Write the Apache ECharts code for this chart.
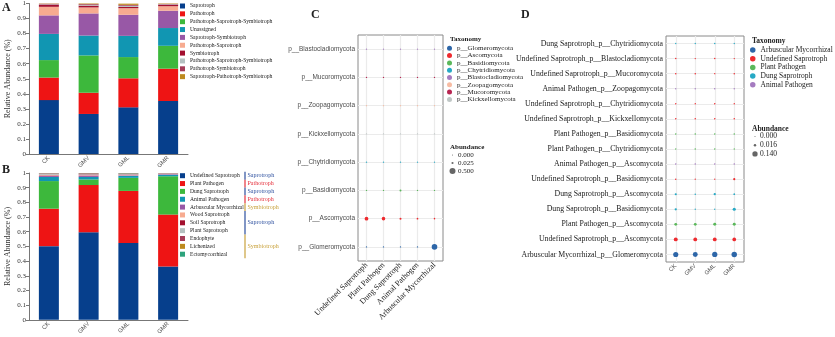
<!DOCTYPE html>
<html>
<head>
<meta charset="utf-8">
<script src="https://cdn.jsdelivr.net/npm/echarts@6/dist/echarts.min.js"></script>
<style>
  html, body { margin: 0; padding: 0; background: #fff; }
  #chart { width: 835px; height: 337px; }
</style>
</head>
<body>
<div id="chart"></div>
<script>
// ---- samples ----
const samples = ['CK', 'GMV', 'GML', 'GMR'];

// ---- A: trophic modes (relative abundance per sample) ----
const trophicModes = [
  'Saprotroph', 'Pathotroph', 'Pathotroph-Saprotroph-Symbiotroph', 'Unassigned',
  'Saprotroph-Symbiotroph', 'Pathotroph-Saprotroph', 'Symbiotroph',
  'Pathotroph-Saprotroph-Symbiotroph ', 'Pathotroph-Symbiotroph',
  'Saprotroph-Pathotroph-Symbiotroph'
];
const trophicShares = [
  [0.358, 0.266, 0.310, 0.352],
  [0.150, 0.141, 0.193, 0.215],
  [0.116, 0.248, 0.141, 0.152],
  [0.174, 0.132, 0.141, 0.118],
  [0.123, 0.147, 0.140, 0.115],
  [0.057, 0.040, 0.044, 0.030],
  [0.013, 0.012, 0.008, 0.008],
  [0.003, 0.005, 0.008, 0.004],
  [0.004, 0.005, 0.006, 0.003],
  [0.002, 0.004, 0.008, 0.003]
];

// ---- B: guilds ----
const guilds = [
  'Undefined Saprotroph', 'Plant Pathogen', 'Dung Saprotroph', 'Animal Pathogen',
  'Arbuscular Mycorrhizal', 'Wood Saprotroph', 'Soil Saprotroph', 'Plant Saprotroph',
  'Endophyte', 'Lichenized', 'Ectomycorrhizal'
];
const guildShares = [
  [0.502, 0.597, 0.524, 0.363],
  [0.255, 0.321, 0.354, 0.354],
  [0.188, 0.038, 0.089, 0.261],
  [0.028, 0.017, 0.013, 0.010],
  [0.008, 0.010, 0.004, 0.004],
  [0.004, 0.003, 0.003, 0.002],
  [0.003, 0.004, 0.003, 0.002],
  [0.007, 0.004, 0.004, 0.002],
  [0.003, 0.004, 0.003, 0.001],
  [0.001, 0.001, 0.001, 0.0005],
  [0.001, 0.001, 0.002, 0.0005]
];
// trophic mode bracket beside the guild legend: [label, first guild row, last guild row]
const guildBrackets = [
  ['Saprotroph', 0, 0], ['Pathotroph', 1, 1], ['Saprotroph', 2, 2], ['Pathotroph', 3, 3],
  ['Symbiotroph', 4, 4], ['Saprotroph', 5, 7], ['Symbiotroph', 8, 10]
];

// ---- C: phylum x guild ----
const functionalGroups = ['Undefined Saprotroph', 'Plant Pathogen', 'Dung Saprotroph', 'Animal Pathogen', 'Arbuscular Mycorrhizal'];
const phyla = ['p__Glomeromycota', 'p__Ascomycota', 'p__Basidiomycota', 'p__Chytridiomycota',
  'p__Kickxellomycota', 'p__Zoopagomycota', 'p__Mucoromycota', 'p__Blastocladiomycota'];
const phylumAbundance = [
  [0.002, 0.002, 0.002, 0.002, 0.420],
  [0.150, 0.130, 0.020, 0.010, 0.006],
  [0.003, 0.002, 0.020, 0.002, 0.002],
  [0.003, 0.002, 0.002, 0.001, 0.001],
  [0.002, 0.001, 0.001, 0.001, 0.002],
  [0.001, 0.001, 0.001, 0.002, 0.001],
  [0.003, 0.002, 0.002, 0.002, 0.002],
  [0.002, 0.001, 0.001, 0.001, 0.001]
];
const phylumLegendOrder = ['p__Glomeromycota', 'p__Ascomycota', 'p__Basidiomycota', 'p__Chytridiomycota',
  'p__Blastocladiomycota', 'p__Zoopagomycota', 'p__Mucoromycota', 'p__Kickxellomycota'];
const cSizeKeys = [0.000, 0.025, 0.500];

// ---- D: guild_phylum x sample ----
const pairGroups = ['Arbuscular Mycorrhizal', 'Undefined Saprotroph', 'Plant Pathogen', 'Dung Saprotroph', 'Animal Pathogen'];
const pairLabels = [
  'Arbuscular Mycorrhizal_p__Glomeromycota',
  'Undefined Saprotroph_p__Ascomycota',
  'Plant Pathogen_p__Ascomycota',
  'Dung Saprotroph_p__Basidiomycota',
  'Dung Saprotroph_p__Ascomycota',
  'Undefined Saprotroph_p__Basidiomycota',
  'Animal Pathogen_p__Ascomycota',
  'Plant Pathogen_p__Chytridiomycota',
  'Plant Pathogen_p__Basidiomycota',
  'Undefined Saprotroph_p__Kickxellomycota',
  'Undefined Saprotroph_p__Chytridiomycota',
  'Animal Pathogen_p__Zoopagomycota',
  'Undefined Saprotroph_p__Mucoromycota',
  'Undefined Saprotroph_p__Blastocladiomycota',
  'Dung Saprotroph_p__Chytridiomycota'
];
const pairAbundance = [
  [0.130, 0.115, 0.135, 0.150],
  [0.065, 0.060, 0.060, 0.055],
  [0.026, 0.025, 0.030, 0.030],
  [0.012, 0.001, 0.001, 0.035],
  [0.010, 0.002, 0.012, 0.004],
  [0.002, 0.001, 0.001, 0.010],
  [0.002, 0.002, 0.002, 0.002],
  [0.001, 0.002, 0.002, 0.001],
  [0.002, 0.002, 0.002, 0.002],
  [0.002, 0.002, 0.002, 0.002],
  [0.001, 0.001, 0.002, 0.001],
  [0.001, 0.001, 0.002, 0.001],
  [0.002, 0.002, 0.001, 0.002],
  [0.002, 0.001, 0.002, 0.001],
  [0.001, 0.001, 0.002, 0.001]
];
const dSizeKeys = [0.000, 0.016, 0.140];

// ---- styling ----
const SERIF = 'Liberation Serif';
const SANS = 'Liberation Sans';
const barColors = ['#063f8c', '#ee1414', '#3db83c', '#1196b2', '#9858a6', '#f7ab90',
  '#a3102f', '#b5c1c1', '#a53c58', '#bd8a1e', '#2da37c'];
const phylumColors = {
  'p__Glomeromycota': '#2d66a8', 'p__Ascomycota': '#ee2a2f', 'p__Basidiomycota': '#5bb85b',
  'p__Chytridiomycota': '#27a9c5', 'p__Blastocladiomycota': '#a57bc0', 'p__Zoopagomycota': '#f7bca3',
  'p__Mucoromycota': '#b82652', 'p__Kickxellomycota': '#bfc6c5'
};
const groupColors = ['#2d66a8', '#ee2a2f', '#5bb85b', '#27a9c5', '#a57bc0'];
const bracketColors = { Saprotroph: '#2c4f9e', Pathotroph: '#e5323d', Symbiotroph: '#c9a23c' };

const cSize = v => 1 + 5 * Math.sqrt(v / 0.5);
const dSize = v => 1 + 4.3 * Math.sqrt(v / 0.14);

// legend geometry for the two bar panels
const LEG_ROW = 7.85;
const legATop = 6, legBTop = 175.7;

const chart = echarts.init(document.getElementById('chart'), null, { renderer: 'canvas' });

function barAxes(gridIndex) {
  return {
    x: {
      type: 'category', gridIndex, data: samples,
      axisLine: { lineStyle: { color: '#777', width: 1 } },
      axisTick: { alignWithLabel: true, length: 3, lineStyle: { color: '#777' } },
      axisLabel: { rotate: 45, fontFamily: SANS, fontSize: 6, color: '#555', margin: 3 }
    },
    y: {
      type: 'value', gridIndex, min: 0, max: 1, interval: 0.1,
      name: 'Relative Abundance (%)', nameLocation: 'middle', nameGap: 17,
      nameTextStyle: { fontFamily: SERIF, fontSize: 8, color: '#333' },
      axisLine: { show: true, lineStyle: { color: '#777', width: 1 } },
      axisTick: { show: true, length: 3, lineStyle: { color: '#777' } },
      axisLabel: { fontFamily: SERIF, fontSize: 7, color: '#333', margin: 3 },
      splitLine: { show: false }
    }
  };
}
const axA = barAxes(0), axB = barAxes(1);

function dotAxisX(gridIndex, data, font, size, color) {
  return {
    type: 'category', gridIndex, data,
    axisLine: { show: false },
    axisTick: { alignWithLabel: true, length: 2, lineStyle: { color: '#555' } },
    axisLabel: { rotate: 45, fontFamily: font, fontSize: size, color, margin: 3, interval: 0 },
    splitLine: { show: false }
  };
}
function dotAxisY(gridIndex, data, font, size, color) {
  return {
    type: 'category', gridIndex, data,
    axisLine: { show: false },
    axisTick: { alignWithLabel: true, length: 2, lineStyle: { color: '#555' } },
    axisLabel: { fontFamily: font, fontSize: size, color, margin: 3, interval: 0 },
    splitLine: { show: false }
  };
}

const series = [];

// A: stacked trophic modes
trophicModes.forEach((name, i) => {
  series.push({
    type: 'bar', name, stack: 'trophic', xAxisIndex: 0, yAxisIndex: 0,
    barWidth: 20, itemStyle: { color: barColors[i] }, data: trophicShares[i]
  });
});
// B: stacked guilds
guilds.forEach((name, i) => {
  series.push({
    type: 'bar', name, stack: 'guild', xAxisIndex: 1, yAxisIndex: 1,
    barWidth: 20, itemStyle: { color: barColors[i] }, data: guildShares[i]
  });
});

// gridline helpers for the dot panels (drawn beneath the dots)
function gridLines(xi, xCats, yCats) {
  return {
    type: 'scatter', xAxisIndex: xi, yAxisIndex: xi, data: [], z: 1, silent: true,
    markLine: {
      silent: true, symbol: ['none', 'none'], z: 1, animation: false,
      label: { show: false },
      lineStyle: { color: '#ebebeb', type: 'solid', width: 1.2 },
      data: xCats.map(c => ({ xAxis: c })).concat(yCats.map(c => ({ yAxis: c })))
    }
  };
}
series.push(gridLines(2, functionalGroups, phyla));
series.push(gridLines(3, samples, pairLabels));

// C: one series per phylum
phyla.forEach((ph, i) => {
  series.push({
    type: 'scatter', name: ph, xAxisIndex: 2, yAxisIndex: 2, z: 3,
    itemStyle: { color: phylumColors[ph], opacity: 1 },
    symbolSize: d => cSize(d[2]),
    data: phylumAbundance[i].map((v, j) => [functionalGroups[j], ph, v])
  });
});

// D: one series per guild
pairGroups.forEach((g, gi) => {
  const data = [];
  pairLabels.forEach((lab, r) => {
    if (lab.split('_p__')[0] === g) {
      pairAbundance[r].forEach((v, j) => data.push([samples[j], lab, v]));
    }
  });
  series.push({
    type: 'scatter', name: g, xAxisIndex: 3, yAxisIndex: 3, z: 3,
    itemStyle: { color: groupColors[gi], opacity: 1 },
    symbolSize: d => dSize(d[2]),
    data
  });
});

// graphic: panel letters, legend titles, size keys, trophic brackets
const graphic = [];
function txt(x, y, text, opts) {
  graphic.push({
    type: 'text', x, y, silent: true,
    style: Object.assign({ text, fontFamily: SERIF, fontSize: 7, fill: '#222', verticalAlign: 'middle', align: 'left' }, opts || {})
  });
}
txt(2, 8, 'A', { fontSize: 12, fontWeight: 'bold' });
txt(2, 170, 'B', { fontSize: 12, fontWeight: 'bold' });
txt(311, 15, 'C', { fontSize: 12, fontWeight: 'bold' });
txt(521, 15, 'D', { fontSize: 12, fontWeight: 'bold' });

txt(450, 39, 'Taxonomy', { fontWeight: 'bold', fontSize: 7 });
txt(450, 147, 'Abundance', { fontWeight: 'bold', fontSize: 7 });
cSizeKeys.forEach((v, k) => {
  const y = 155 + k * 8;
  graphic.push({ type: 'circle', silent: true, shape: { cx: 452.5, cy: y, r: cSize(v) / 2 }, style: { fill: '#666' } });
  txt(458, y, v.toFixed(3), { fontSize: 7 });
});

txt(752, 41, 'Taxonomy', { fontWeight: 'bold', fontSize: 7.5 });
txt(752, 129, 'Abundance', { fontWeight: 'bold', fontSize: 7.5 });
dSizeKeys.forEach((v, k) => {
  const y = 136.5 + k * 8.7;
  graphic.push({ type: 'circle', silent: true, shape: { cx: 755, cy: y, r: dSize(v) / 2 }, style: { fill: '#666' } });
  txt(760, y, v.toFixed(3), { fontSize: 7.5 });
});

guildBrackets.forEach(([label, r0, r1]) => {
  const y0 = legBTop + (r0 - 0.5) * LEG_ROW;
  const y1 = legBTop + (r1 + 0.5) * LEG_ROW;
  const col = bracketColors[label];
  graphic.push({ type: 'line', silent: true, shape: { x1: 245, y1: y0, x2: 245, y2: y1 }, style: { stroke: col, lineWidth: 1.2 } });
  txt(247.5, (y0 + y1) / 2, label, { fontSize: 6, fill: col });
});

const legendBase = {
  orient: 'vertical', padding: 0, itemGap: 0, selectedMode: false
};

const option = {
  animation: false,
  backgroundColor: '#fff',
  grid: [
    { left: 29, top: 3, width: 159, height: 151, containLabel: false },
    { left: 29, top: 173, width: 159, height: 151, containLabel: false },
    { left: 358, top: 35, width: 85, height: 226, show: true, borderColor: '#8a8a8a', borderWidth: 1, backgroundColor: 'transparent' },
    { left: 666, top: 36, width: 78, height: 226, show: true, borderColor: '#8a8a8a', borderWidth: 1, backgroundColor: 'transparent' }
  ],
  xAxis: [
    axA.x, axB.x,
    dotAxisX(2, functionalGroups, SERIF, 8, '#1a1a1a'),
    dotAxisX(3, samples, SANS, 6, '#555')
  ],
  yAxis: [
    axA.y, axB.y,
    dotAxisY(2, phyla, SANS, 6.5, '#4d4d4d'),
    dotAxisY(3, pairLabels, SERIF, 7.8, '#1a1a1a')
  ],
  legend: [
    Object.assign({}, legendBase, {
      left: 180, top: legATop - LEG_ROW / 2, icon: 'rect', itemWidth: 5, itemHeight: 5,
      textStyle: { fontFamily: SERIF, fontSize: 5.6, color: '#222', lineHeight: LEG_ROW },
      data: trophicModes.map((n, i) => ({ name: n, itemStyle: { color: barColors[i] } }))
    }),
    Object.assign({}, legendBase, {
      left: 180, top: legBTop - LEG_ROW / 2, icon: 'rect', itemWidth: 5, itemHeight: 5,
      textStyle: { fontFamily: SERIF, fontSize: 5.6, color: '#222', lineHeight: LEG_ROW },
      data: guilds.map((n, i) => ({ name: n, itemStyle: { color: barColors[i] } }))
    }),
    Object.assign({}, legendBase, {
      left: 447, top: 48.3 - 3.65, icon: 'circle', itemWidth: 5, itemHeight: 5,
      textStyle: { fontFamily: SERIF, fontSize: 7, color: '#222', lineHeight: 7.3 },
      data: phylumLegendOrder.map(n => ({ name: n, itemStyle: { color: phylumColors[n] } }))
    }),
    Object.assign({}, legendBase, {
      left: 750, top: 50 - 4.35, icon: 'circle', itemWidth: 5.5, itemHeight: 5.5,
      textStyle: { fontFamily: SERIF, fontSize: 7.5, color: '#222', lineHeight: 8.7 },
      data: pairGroups.map((n, i) => ({ name: n, itemStyle: { color: groupColors[i] } }))
    })
  ],
  graphic,
  series
};

chart.setOption(option);
</script>
</body>
</html>
